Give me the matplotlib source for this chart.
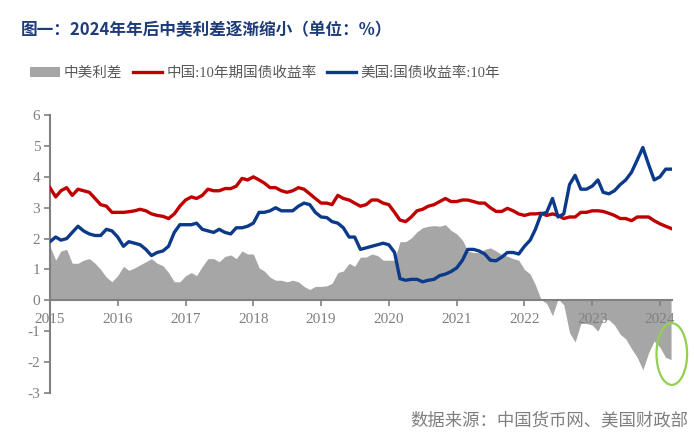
import numpy as np
import pandas as pd
import matplotlib
matplotlib.use("Agg")
import matplotlib.pyplot as plt
import matplotlib.dates as mdates
from matplotlib.patches import Ellipse, Patch
from matplotlib.lines import Line2D

plt.rcParams["font.family"] = ["Liberation Serif", "Noto Sans CJK SC"]
plt.rcParams["axes.unicode_minus"] = False

# monthly readings, Jan 2015 .. Mar 2024
months = pd.date_range("2015-01-01", "2024-03-01", freq="MS")

cn_10y = [
    3.65, 3.35, 3.55, 3.65, 3.40, 3.60, 3.55, 3.50, 3.30, 3.10, 3.05, 2.85,  # 2015
    2.85, 2.85, 2.87, 2.90, 2.95, 2.90, 2.80, 2.75, 2.72, 2.65, 2.80, 3.05,  # 2016
    3.25, 3.35, 3.30, 3.40, 3.60, 3.55, 3.55, 3.62, 3.62, 3.70, 3.95, 3.90,  # 2017
    4.00, 3.90, 3.80, 3.65, 3.65, 3.55, 3.50, 3.55, 3.65, 3.60, 3.45, 3.30,  # 2018
    3.15, 3.15, 3.10, 3.40, 3.30, 3.25, 3.15, 3.05, 3.10, 3.25, 3.25, 3.15,  # 2019
    3.10, 2.85, 2.60, 2.55, 2.70, 2.90, 2.95, 3.05, 3.10, 3.20, 3.30, 3.20,  # 2020
    3.20, 3.25, 3.25, 3.20, 3.15, 3.15, 3.00, 2.88, 2.88, 2.98, 2.90, 2.80,  # 2021
    2.75, 2.80, 2.80, 2.82, 2.75, 2.80, 2.75, 2.65, 2.70, 2.70, 2.85, 2.85,  # 2022
    2.90, 2.90, 2.88, 2.82, 2.75, 2.65, 2.65, 2.58, 2.70, 2.70, 2.70, 2.58,  # 2023
    2.48, 2.40, 2.33,                                                        # 2024
]

us_10y = [
    1.90, 2.05, 1.95, 2.00, 2.20, 2.40, 2.25, 2.15, 2.10, 2.10, 2.30, 2.25,  # 2015
    2.05, 1.75, 1.90, 1.85, 1.80, 1.65, 1.45, 1.55, 1.60, 1.75, 2.20, 2.45,  # 2016
    2.45, 2.45, 2.50, 2.30, 2.25, 2.20, 2.30, 2.20, 2.15, 2.35, 2.35, 2.40,  # 2017
    2.50, 2.85, 2.85, 2.90, 3.00, 2.90, 2.90, 2.90, 3.05, 3.15, 3.10, 2.85,  # 2018
    2.70, 2.68, 2.55, 2.50, 2.35, 2.05, 2.05, 1.65, 1.70, 1.75, 1.80, 1.85,  # 2019
    1.80, 1.55, 0.70, 0.65, 0.68, 0.68, 0.60, 0.65, 0.68, 0.80, 0.85, 0.93,  # 2020
    1.05, 1.30, 1.65, 1.65, 1.60, 1.50, 1.30, 1.28, 1.40, 1.55, 1.55, 1.50,  # 2021
    1.75, 1.95, 2.30, 2.80, 2.85, 3.30, 2.70, 2.80, 3.75, 4.05, 3.60, 3.60,  # 2022
    3.70, 3.90, 3.50, 3.45, 3.55, 3.75, 3.90, 4.15, 4.55, 4.95, 4.40, 3.90,  # 2023
    4.00, 4.25, 4.25,                                                        # 2024
]

df = pd.DataFrame({"cn": cn_10y, "us": us_10y}, index=months)
df["spread"] = df["cn"] - df["us"]

grey = "#A6A6A6"
red = "#C00000"
blue = "#0B3A8A"
txt = "#7F7F7F"

fig = plt.figure(figsize=(6.94, 4.48), dpi=100)
ax = fig.add_axes([0.072, 0.123, 0.896, 0.620])

ax.fill_between(df.index, df["spread"], 0, color=grey, lw=0, zorder=1)
ax.plot(df.index, df["cn"], color=red, lw=2.4, zorder=3)
ax.plot(df.index, df["us"], color=blue, lw=2.4, zorder=4)

ax.set_ylim(-3, 6)
ax.set_yticks(range(-3, 7))
ax.set_xlim(pd.Timestamp("2015-01-01"), pd.Timestamp("2024-03-05"))
ax.xaxis.set_major_locator(mdates.YearLocator())
ax.xaxis.set_major_formatter(mdates.DateFormatter("%Y"))

for s in ["top", "right"]:
    ax.spines[s].set_visible(False)
ax.spines["bottom"].set_position(("data", 0))
ax.spines["bottom"].set_color("#808080")
ax.spines["left"].set_color("#808080")
ax.spines["bottom"].set_linewidth(1.5)
ax.spines["left"].set_linewidth(1.5)
ax.spines["bottom"].set_zorder(2.5)
ax.tick_params(axis="both", colors="#808080", labelcolor=txt, labelsize=11,
               length=4, width=1.2)
ax.tick_params(axis="x", pad=5)
ax.tick_params(axis="y", pad=3)

# highlight circle on the latest readings
ell = Ellipse((mdates.date2num(pd.Timestamp("2024-03-05")), -1.74), width=165, height=2.0,
              fill=False, edgecolor="#92D050", lw=1.6, clip_on=False, zorder=5)
ax.add_patch(ell)

handles = [
    Patch(facecolor=grey, edgecolor="none"),
    Line2D([], [], color=red, lw=2.4),
    Line2D([], [], color=blue, lw=2.4),
]
labels = ["中美利差", "中国:10年期国债收益率", "美国:国债收益率:10年"]
fig.legend(handles, labels, loc="center", bbox_to_anchor=(0.382, 0.837), ncol=3,
           frameon=False, fontsize=10.5, labelcolor="#595959", handlelength=2.0,
           handletextpad=0.3, columnspacing=0.7)

fig.text(0.03, 0.933, "图一：2024年年后中美利差逐渐缩小（单位：%）", fontsize=12,
         fontweight="bold", color="#1F3C7A", family=["Noto Sans CJK SC"], va="center")
fig.text(0.992, 0.062, "数据来源：中国货币网、美国财政部", fontsize=12.5, color=txt,
         ha="right", va="center", family=["Noto Sans CJK SC"])

fig.savefig("out.png", dpi=100)
